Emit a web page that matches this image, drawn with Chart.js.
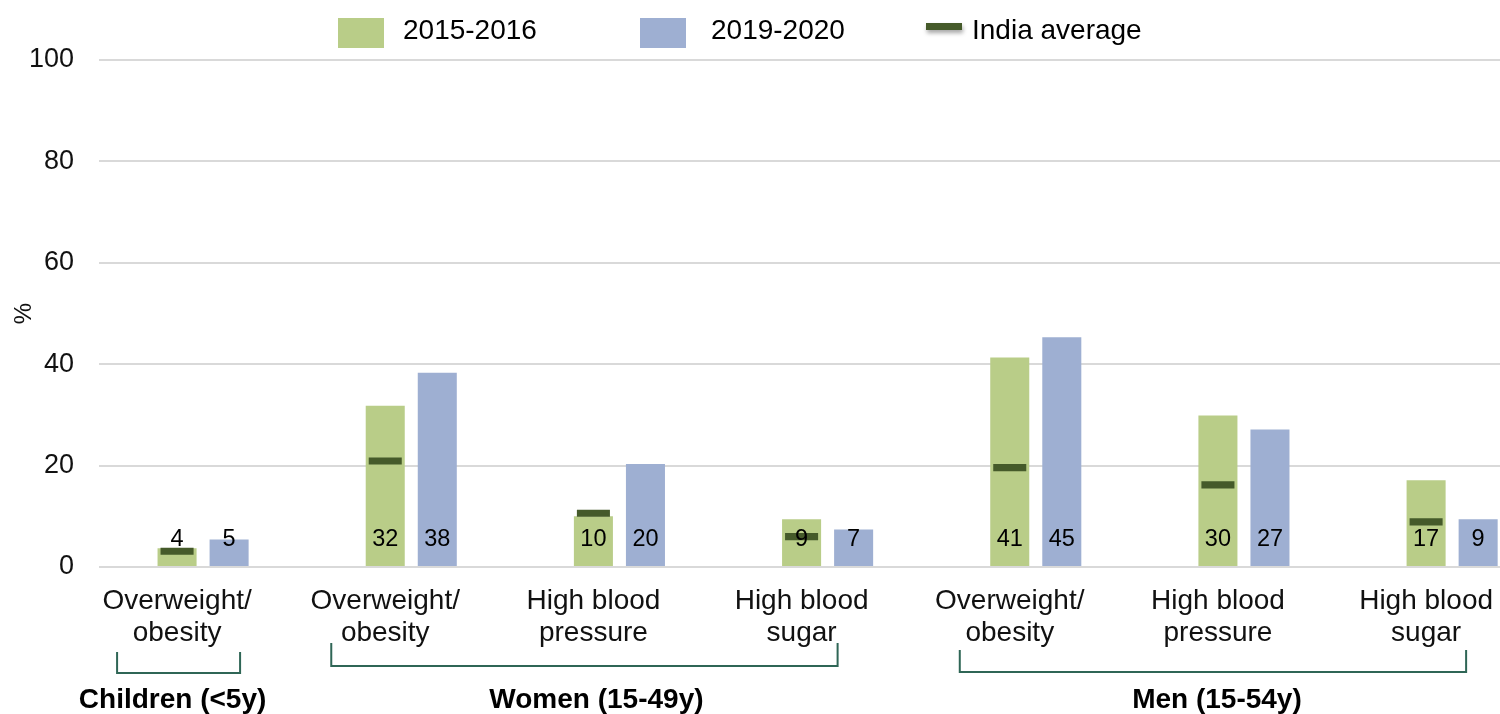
<!DOCTYPE html>
<html>
<head>
<meta charset="utf-8">
<script src="https://cdn.jsdelivr.net/npm/chart.js@4"></script>
<style>
  html, body { margin: 0; padding: 0; background: #fff; }
  #wrap { width: 1500px; height: 714px; }
</style>
</head>
<body>
<div id="wrap"><canvas id="chart"></canvas></div>
<script>
// values (%)
let categories = [
    ["Overweight/", "obesity"],
    ["Overweight/", "obesity"],
    ["High blood", "pressure"],
    ["High blood", "sugar"],
    ["Overweight/", "obesity"],
    ["High blood", "pressure"],
    ["High blood", "sugar"]
];
let values2015 = [3.7, 31.8, 10.0, 9.4, 41.3, 29.9, 17.1];
let values2019 = [5.4, 38.3, 20.3, 7.4, 45.3, 27.1, 9.4];
let indiaAverage = [3.1, 20.9, 10.6, 6.0, 19.6, 16.2, 8.9];
let yTicks = [0, 20, 40, 60, 80, 100];

// groups under the axis: first and last category of each
let groupNames = ["Children (<5y)", "Women (15-49y)", "Men (15-54y)"];
let groupFirst = [0, 1, 4];
let groupLast = [0, 3, 6];

// styles
const font = "'Liberation Sans', Arial, sans-serif";
const green = "#b9cd88";
const blue = "#9eafd2";
const dark = "#455a2a";
const bracketColor = "#2f6656";
const avgHalf = 0.7; // half thickness of the average dash, in % units
const bracket = {
    padLeft: [86, 80, 76],
    padRight: [37, 10, 14],
    top: [85, 76, 83],
    bottom: [106, 99, 105],
    labelShift: [-6, 12, 4],
    label: 133
};
const legendPos = { markerX: [338, 640, 926], textX: [403, 711, 972], y: 31 };

function xy(arr) {
    return arr.map((v, i) => ({ x: i, y: v }));
}

let valueLabels = {
    id: "valueLabels",
    afterDatasetsDraw(chart) {
        let c = chart.ctx;
        c.save();
        c.font = "23.5px " + font;
        c.fillStyle = "#000";
        c.textAlign = "center";
        c.textBaseline = "middle";
        [0, 1].forEach(di => {
            let meta = chart.getDatasetMeta(di);
            meta.data.forEach((bar, i) => {
                let v = chart.data.datasets[di].data[i].y;
                c.fillText(String(Math.round(v)), bar.x, bar.base - 26);
            });
        });
        c.restore();
    }
};

let groupBrackets = {
    id: "groupBrackets",
    afterDraw(chart) {
        let c = chart.ctx;
        let xs = chart.scales.x;
        let base = chart.chartArea.bottom;
        c.save();
        c.strokeStyle = bracketColor;
        c.lineWidth = 2;
        c.fillStyle = "#000";
        c.font = "bold 28px " + font;
        c.textAlign = "center";
        c.textBaseline = "middle";
        for (let g = 0; g < groupNames.length; g++) {
            let x1 = xs.getPixelForValue(groupFirst[g]) - bracket.padLeft[g];
            let x2 = xs.getPixelForValue(groupLast[g]) + bracket.padRight[g];
            let yt = base + bracket.top[g];
            let yb = base + bracket.bottom[g];
            c.beginPath();
            c.moveTo(x1, yt);
            c.lineTo(x1, yb);
            c.lineTo(x2, yb);
            c.lineTo(x2, yt);
            c.stroke();
            c.fillText(groupNames[g], (x1 + x2) / 2 + bracket.labelShift[g], base + bracket.label);
        }
        c.restore();
    }
};

let legendBox = {
    id: "legendBox",
    afterDraw(chart) {
        let c = chart.ctx;
        c.save();
        chart.data.datasets.forEach((ds, i) => {
            let mx = legendPos.markerX[i];
            if (ds.order === -1) {
                c.shadowColor = "rgba(0,0,0,0.35)";
                c.shadowBlur = 4;
                c.shadowOffsetX = 1;
                c.shadowOffsetY = 3;
                c.fillStyle = ds.backgroundColor;
                c.fillRect(mx, 23, 36, 7);
                c.shadowColor = "transparent";
            } else {
                c.fillStyle = ds.backgroundColor;
                c.fillRect(mx, 18, 46, 30);
            }
            c.fillStyle = "#000";
            c.font = "28px " + font;
            c.textAlign = "left";
            c.textBaseline = "middle";
            c.fillText(ds.label, legendPos.textX[i], legendPos.y);
        });
        c.restore();
    }
};

let ctx = document.getElementById("chart").getContext("2d");

let chart = new Chart(ctx, {
    type: "bar",
    data: {
        datasets: [
            {
                label: "2015-2016",
                data: xy(values2015),
                backgroundColor: green,
                stack: "a",
                categoryPercentage: 0.5,
                barPercentage: 0.75
            },
            {
                label: "2019-2020",
                data: xy(values2019),
                backgroundColor: blue,
                stack: "b",
                categoryPercentage: 0.5,
                barPercentage: 0.75
            },
            {
                label: "India average",
                data: indiaAverage.map((v, i) => ({ x: i, y: [v - avgHalf, v + avgHalf] })),
                backgroundColor: dark,
                stack: "a",
                order: -1,
                categoryPercentage: 0.5,
                barPercentage: 0.635
            }
        ]
    },
    options: {
        responsive: true,
        maintainAspectRatio: false,
        animation: false,
        events: [],
        layout: { padding: { top: 60, left: 0, right: 0, bottom: 0 } },
        plugins: {
            legend: { display: false },
            tooltip: { enabled: false }
        },
        scales: {
            x: {
                type: "linear",
                min: -0.5,
                max: 6.23,
                offset: false,
                grid: { display: false, drawTicks: false },
                border: { display: false },
                afterBuildTicks(scale) {
                    scale.ticks = categories.map((c, i) => ({ value: i }));
                },
                afterFit(scale) {
                    scale.height = 147;
                    scale.paddingLeft = 0;
                    scale.paddingRight = 0;
                },
                ticks: {
                    autoSkip: false,
                    maxRotation: 0,
                    padding: 18,
                    labelOffset: -26,
                    color: "#111",
                    font: { family: font, size: 28, lineHeight: 1.15 },
                    callback: (value, index) => categories[index]
                }
            },
            y: {
                min: 0,
                max: 100,
                stacked: false,
                afterBuildTicks(scale) {
                    scale.ticks = yTicks.map(v => ({ value: v }));
                },
                afterFit(scale) {
                    scale.width = 99;
                },
                grid: { color: "#d9d9d9", lineWidth: 2, drawTicks: false },
                border: { display: false },
                ticks: {
                    padding: 25,
                    color: "#111",
                    font: { family: font, size: 27 }
                },
                title: {
                    display: true,
                    text: "%",
                    color: "#111",
                    padding: { top: 12, bottom: 0 },
                    font: { family: font, size: 24, lineHeight: 1 }
                }
            }
        }
    },
    plugins: [valueLabels, groupBrackets, legendBox]
});
</script>
</body>
</html>
